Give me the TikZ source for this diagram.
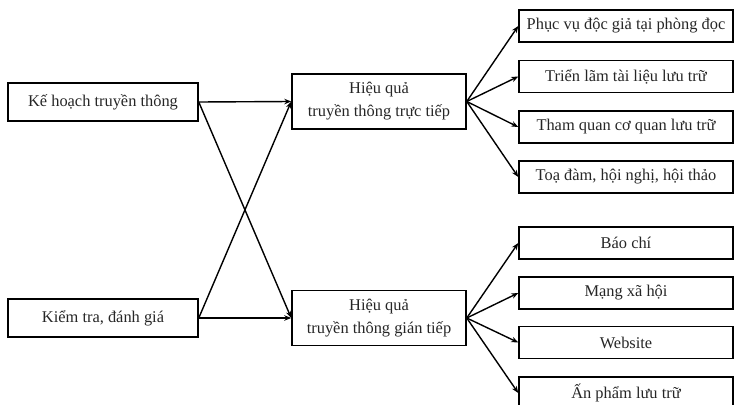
\documentclass[tikz,border=0pt]{standalone}
\usepackage{fontspec}
\setmainfont{Liberation Serif}
\usetikzlibrary{arrows.meta}
\begin{document}
\begin{tikzpicture}[x=1pt,y=-1pt,
  box/.style={draw, line width=1.5pt, inner sep=0pt, align=center, font=\fontsize{16.4}{23}\selectfont, text=black!85},
  lbox/.style={box, minimum width=190pt, minimum height=38pt},
  mbox/.style={box, minimum width=174pt, minimum height=55pt},
  rbox/.style={box, minimum width=214pt, minimum height=32pt},
  arr/.style={line width=1.4pt, -{Stealth[length=7pt,width=5.5pt]}}]
\useasboundingbox (0,0) rectangle (735,404);
\clip (0,0) rectangle (735,404);
\node[lbox] (k1) at (103,102) {Kế hoạch truyền thông};
\node[lbox] (k2) at (103,318) {Kiểm tra, đánh giá};
\node[mbox] (m1) at (379,101.5) {Hiệu quả\\truyền thông trực tiếp};
\node[mbox] (m2) at (379,318) {Hiệu quả\\truyền thông gián tiếp};
\node[rbox] (r1) at (626,26) {Phục vụ độc giả tại phòng đọc};
\node[rbox] (r2) at (626,76.5) {Triển lãm tài liệu lưu trữ};
\node[rbox] (r3) at (626,127) {Tham quan cơ quan lưu trữ};
\node[rbox] (r4) at (626,177) {Toạ đàm, hội nghị, hội thảo};
\node[rbox] (r5) at (626,243) {Báo chí};
\node[rbox] (r6) at (626,293) {Mạng xã hội};
\node[rbox] (r7) at (626,342.5) {Website};
\node[rbox] (r8) at (626,393) {Ấn phẩm lưu trữ};
\draw[arr] (k1.east) -- (m1.west);
\draw[arr] (k1.east) -- (m2.west);
\draw[arr] (k2.east) -- (m1.west);
\draw[arr] (k2.east) -- (m2.west);
\foreach \r in {r1,r2,r3,r4} \draw[arr] (m1.east) -- (\r.west);
\foreach \r in {r5,r6,r7,r8} \draw[arr] (m2.east) -- (\r.west);
\end{tikzpicture}
\end{document}
